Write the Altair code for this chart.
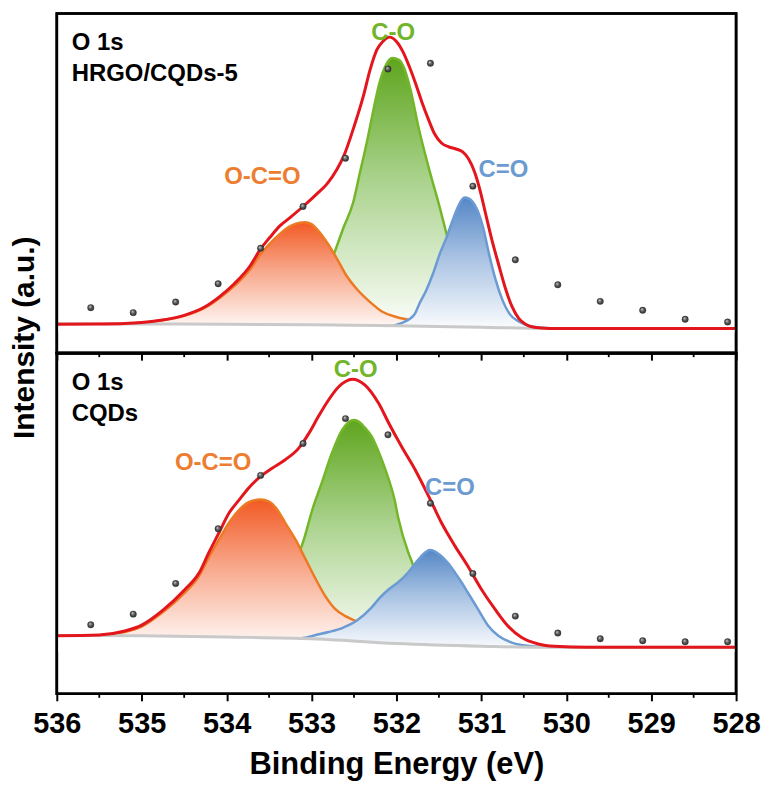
import altair as alt
import pandas as pd

FONT = "Liberation Sans"

# ---------------- data (binding energy in eV, intensity in a.u.) ----------------
TICKS = [536, 535, 534, 533, 532, 531, 530, 529, 528]
MINOR_TICKS = [535.5, 534.5, 533.5, 532.5, 531.5, 530.5, 529.5, 528.5]

DOT_E = [535.6, 535.1, 534.6, 534.1, 533.6, 533.1, 532.6, 532.1,
         531.6, 531.1, 530.6, 530.1, 529.6, 529.1, 528.6, 528.1]
TOP_DOT_I = [45.7, 40.7, 51.3, 69.7, 105.3, 147.3, 195.7, 285.3,
             291.0, 167.7, 93.7, 68.7, 52.0, 43.0, 34.0, 31.3]
BOT_DOT_I = [69.3, 80.0, 110.7, 165.7, 219.3, 251.3, 276.3, 260.0,
             191.3, 120.7, 78.0, 61.0, 55.3, 53.3, 52.3, 52.3]

# --- HRGO/CQDs-5 panel ---
TOP_ENV_E = [536.0, 535.5, 535.2, 535.0, 534.78, 534.5, 534.26, 534.09, 533.91, 533.72,
             533.6, 533.49, 533.37, 533.25, 533.09, 532.94, 532.82, 532.7, 532.62, 532.51,
             532.39, 532.31, 532.23, 532.16, 532.08, 532.0, 531.92, 531.85, 531.78, 531.7,
             531.62, 531.55, 531.47, 531.38, 531.3, 531.22, 531.15, 531.08, 531.02, 530.95,
             530.88, 530.8, 530.72, 530.64, 530.56, 530.48, 530.38, 530.2, 530.0, 528.0]
TOP_ENV_I = [29.0, 29.3, 29.8, 30.8, 33.0, 38.0, 46.3, 56.3, 69.7, 88.0,
             104.7, 116.3, 128.0, 136.3, 148.0, 159.7, 169.7, 184.7, 198.0, 224.7,
             258.0, 284.7, 304.7, 313.0, 317.3, 313.0, 302.0, 288.0, 272.0, 252.0,
             234.0, 220.0, 211.0, 207.0, 205.0, 202.0, 195.0, 182.0, 165.0, 140.0,
             115.0, 90.0, 66.0, 47.0, 35.0, 29.0, 26.0, 24.8, 24.7, 24.7]

TOP_OCO_E = [536.0, 535.5, 535.0, 534.78, 534.5, 534.26, 534.09, 533.91, 533.72, 533.6,
             533.49, 533.37, 533.25, 533.15, 533.08, 533.0, 532.94, 532.82, 532.7, 532.59,
             532.47, 532.31, 532.16, 532.0, 531.8, 531.5, 531.2, 530.8, 530.4]
TOP_OCO_I = [29.0, 29.3, 30.6, 32.8, 37.5, 45.5, 55.0, 67.5, 84.5, 99.5,
             110.0, 120.0, 127.5, 130.8, 131.5, 129.5, 124.7, 111.3, 94.7, 78.0,
             64.7, 51.3, 41.3, 36.3, 32.5, 29.5, 27.5, 26.0, 25.0]

TOP_CO_E = [533.1, 532.95, 532.82, 532.7, 532.63, 532.51, 532.43, 532.35, 532.27, 532.2,
            532.12, 532.05, 531.97, 531.9, 531.84, 531.73, 531.61, 531.49, 531.41, 531.3,
            531.18, 531.05, 530.9]
TOP_CO_I = [29.0, 50.0, 80.0, 108.0, 124.7, 151.3, 181.3, 211.3, 244.7, 271.3,
            290.0, 296.3, 294.5, 284.0, 266.3, 223.0, 183.0, 146.3, 119.7, 85.0,
            52.0, 33.0, 26.5]

TOP_CDO_E = [532.1, 531.95, 531.85, 531.78, 531.73, 531.65, 531.57, 531.49, 531.41, 531.34,
             531.27, 531.2, 531.14, 531.08, 531.03, 530.98, 530.91, 530.83, 530.75, 530.67,
             530.55, 530.42, 530.25, 530.0]
TOP_CDO_I = [26.5, 30.0, 34.0, 40.0, 49.7, 63.0, 79.7, 99.7, 116.3, 133.0,
             148.0, 156.3, 155.0, 149.0, 140.0, 126.3, 99.7, 73.0, 53.0, 39.7,
             31.3, 27.0, 25.2, 24.7]

TOP_BG_E = [536.0, 535.0, 534.0, 533.0, 532.0, 531.0, 530.4, 530.0, 528.0]
TOP_BG_I = [29.5, 29.3, 29.0, 28.5, 27.6, 26.0, 25.0, 24.7, 24.7]

# --- CQDs panel ---
BOT_ENV_E = [536.0, 535.5, 535.2, 535.0, 534.75, 534.5, 534.32, 534.21, 534.09, 533.97,
             533.85, 533.74, 533.6, 533.46, 533.31, 533.15, 533.03, 532.92, 532.8, 532.68,
             532.6, 532.52, 532.45, 532.37, 532.21, 532.09, 531.94, 531.78, 531.62, 531.47,
             531.31, 531.16, 531.0, 530.84, 530.69, 530.53, 530.33, 530.14, 529.75, 528.0]
BOT_ENV_I = [58.3, 59.0, 63.0, 69.0, 84.0, 104.0, 122.0, 141.7, 161.7, 181.7,
             195.0, 206.7, 218.3, 226.7, 235.0, 246.7, 261.7, 278.3, 295.0, 308.3,
             313.5, 315.7, 314.5, 310.0, 291.7, 271.7, 248.3, 225.0, 198.3, 171.7,
             148.3, 128.3, 105.0, 85.0, 68.3, 56.7, 50.0, 47.7, 46.7, 46.7]

BOT_OCO_E = [536.0, 535.5, 535.2, 535.0, 534.75, 534.5, 534.32, 534.21, 534.09, 533.97,
             533.85, 533.74, 533.6, 533.5, 533.42, 533.31, 533.19, 533.07, 532.95, 532.84,
             532.72, 532.6, 532.47, 532.3, 532.0, 531.6, 531.2]
BOT_OCO_I = [58.0, 58.7, 62.0, 67.5, 82.0, 101.0, 119.0, 137.0, 155.0, 172.0,
             185.0, 192.5, 195.0, 193.0, 186.7, 171.7, 155.0, 135.0, 115.0, 98.3,
             85.0, 78.0, 72.5, 65.0, 56.5, 51.5, 48.5]

BOT_CO_E = [533.4, 533.3, 533.2, 533.09, 532.99, 532.88, 532.76, 532.64, 532.56, 532.5,
            532.44, 532.37, 532.29, 532.21, 532.13, 532.02, 531.98, 531.86, 531.82, 531.7,
            531.55, 531.4, 531.2]
BOT_CO_I = [60.0, 100.0, 128.0, 155.0, 185.0, 211.7, 241.7, 265.0, 273.0, 275.0,
            273.0, 267.0, 258.3, 243.0, 225.0, 194.0, 177.0, 141.7, 133.0, 100.0,
            72.0, 57.0, 50.0]

BOT_CDO_E = [533.3, 533.1, 532.95, 532.8, 532.64, 532.47, 532.3, 532.2, 532.09, 531.98,
             531.86, 531.74, 531.66, 531.61, 531.55, 531.47, 531.39, 531.31, 531.23, 531.16,
             531.04, 530.92, 530.8, 530.65, 530.53, 530.3, 530.0]
BOT_CDO_I = [54.0, 56.0, 59.0, 62.0, 66.0, 73.3, 86.0, 96.0, 105.0, 112.0,
             122.0, 135.0, 142.0, 144.3, 143.0, 138.3, 131.0, 121.7, 111.5, 101.7,
             85.0, 68.3, 58.3, 51.7, 49.0, 47.2, 46.7]

BOT_BG_E = [536.0, 535.0, 534.0, 533.0, 532.0, 531.0, 530.3, 528.0]
BOT_BG_I = [58.5, 58.2, 57.0, 55.3, 50.5, 47.8, 46.7, 46.7]

PEAK_NAMES = ["O-C=O", "C-O", "C=O"]
TOP_LBL_E = [533.58, 532.04, 530.74]
TOP_LBL_I = [169.7, 314.7, 177.0]
BOT_LBL_E = [534.16, 532.48, 531.37]
BOT_LBL_I = [225.0, 318.3, 200.0]

# ---------------- style ----------------
RED = "#e3161d"
GRAY = "#c9c9c9"
ORANGE_LINE, ORANGE_STOPS = "#ec7a22", ["#f25a24", "#f8a98d", "#ffffff"]
GREEN_LINE, GREEN_STOPS = "#74b62a", ["#5ea51d", "#abd38e", "#ffffff"]
BLUE_LINE, BLUE_STOPS = "#6b9bd2", ["#5587c6", "#a9c3e3", "#ffffff"]
LABEL_COLORS = ["#ed7d31", "#72b52a", "#6c9bd1"]
W = 682


def df(e, i):
    assert len(e) == len(i)
    return pd.DataFrame({"E": e, "I": i})


def grad(cols):
    return alt.LinearGradient(
        gradient="linear",
        stops=[alt.GradientStop(color=cols[0], offset=0),
               alt.GradientStop(color=cols[1], offset=0.45),
               alt.GradientStop(color=cols[2], offset=1)],
        x1=1, x2=1, y1=0, y2=1)


def panel(h, base, env, oco, co, cdo, bg, dot_i, lbl_e, lbl_i, sample, bottom):
    xs = alt.Scale(domain=[528, 536], reverse=True, nice=False, zero=False)
    ys = alt.Scale(domain=[0, h], nice=False, zero=False)
    if bottom:
        xax = alt.Axis(values=TICKS, format="d", labels=True, labelFontSize=29,
                       labelPadding=9, labelFlush=False, labelOverlap=False,
                       tickSize=7, tickWidth=2, title="Binding Energy (eV)",
                       titleFontSize=31, titlePadding=11)
        yax = None
    else:
        xax = alt.Axis(values=TICKS, labels=False, tickSize=7, tickWidth=2, title=None)
        yax = alt.Axis(title="Intensity (a.u.)", labels=False, ticks=False,
                       titleFontSize=30, titleY=325, titlePadding=17)
    X = alt.X("E:Q", scale=xs, axis=xax)
    Y = alt.Y("I:Q", scale=ys, axis=yax)

    def comp(d, stops, line):
        a = alt.Chart(d).mark_area(color=grad(stops), interpolate="monotone").encode(
            x=X, y=Y, y2=alt.datum(base))
        l = alt.Chart(d).mark_line(color=line, strokeWidth=2.5, interpolate="monotone").encode(x=X, y=Y)
        return [a, l]

    layers = []
    layers += comp(co, GREEN_STOPS, GREEN_LINE)
    layers += comp(oco, ORANGE_STOPS, ORANGE_LINE)
    layers += comp(cdo, BLUE_STOPS, BLUE_LINE)
    # white mask under the background line
    layers.append(alt.Chart(bg).mark_area(color="white", interpolate="monotone").encode(
        x=X, y=Y, y2=alt.datum(base)))
    layers.append(alt.Chart(bg).mark_line(color=GRAY, strokeWidth=3, interpolate="monotone").encode(x=X, y=Y))
    layers.append(alt.Chart(env).mark_line(color=RED, strokeWidth=3, interpolate="monotone").encode(x=X, y=Y))
    dots = pd.DataFrame({"E": DOT_E, "I": dot_i})
    layers.append(alt.Chart(dots).mark_circle(
        size=42, opacity=1, stroke="#2b2b2b", strokeWidth=0.4,
        color=alt.RadialGradient(gradient="radial", x1=0.35, y1=0.3, r1=0, x2=0.5, y2=0.5, r2=0.5,
                                 stops=[alt.GradientStop(color="#d9d9d9", offset=0),
                                        alt.GradientStop(color="#5a5a5a", offset=0.55),
                                        alt.GradientStop(color="#2e2e2e", offset=1)])
    ).encode(x=X, y=Y))
    minor = pd.DataFrame({"E": MINOR_TICKS})
    layers.append(alt.Chart(minor).mark_rule(color="black", strokeWidth=1.8).encode(
        x=X, y=alt.value(h), y2=alt.value(h + 4)))
    lbl = pd.DataFrame({"E": lbl_e, "I": lbl_i, "name": PEAK_NAMES})
    layers.append(alt.Chart(lbl).mark_text(font=FONT, fontSize=24, fontWeight="bold",
                                           align="center", baseline="alphabetic").encode(
        x=X, y=Y, text="name:N",
        color=alt.Color("name:N", scale=alt.Scale(domain=PEAK_NAMES, range=LABEL_COLORS), legend=None)))
    for k, t in enumerate(["O 1s", sample]):
        layers.append(alt.Chart(pd.DataFrame({"t": [t]})).mark_text(
            font=FONT, fontSize=24, fontWeight="bold", align="left", baseline="alphabetic",
            color="black").encode(x=alt.value(15), y=alt.value(37 + 31 * k), text="t:N"))
    # frame drawn on top of everything
    layers.append(alt.Chart(pd.DataFrame({"f": [0]})).mark_rect(
        fillOpacity=0, stroke="black", strokeWidth=2.6).encode(
        x=alt.value(0), x2=alt.value(W), y=alt.value(0), y2=alt.value(h)))
    return alt.layer(*layers).properties(width=W, height=h)


top = panel(341, 21, df(TOP_ENV_E, TOP_ENV_I), df(TOP_OCO_E, TOP_OCO_I), df(TOP_CO_E, TOP_CO_I),
            df(TOP_CDO_E, TOP_CDO_I), df(TOP_BG_E, TOP_BG_I), TOP_DOT_I,
            TOP_LBL_E, TOP_LBL_I, "HRGO/CQDs-5", False)
bot = panel(342, 42, df(BOT_ENV_E, BOT_ENV_I), df(BOT_OCO_E, BOT_OCO_I), df(BOT_CO_E, BOT_CO_I),
            df(BOT_CDO_E, BOT_CDO_I), df(BOT_BG_E, BOT_BG_I), BOT_DOT_I,
            BOT_LBL_E, BOT_LBL_I, "CQDs", True)

chart = alt.vconcat(top, bot, spacing=0, bounds="flush").properties(
    padding={"left": 0, "top": 1, "right": 0, "bottom": 0},
    background="white",
).configure_view(stroke="black", strokeWidth=2.6).configure_axis(
    grid=False, domain=False, tickColor="black", labelColor="black", titleColor="black",
    labelFont=FONT, titleFont=FONT, labelFontWeight="bold", titleFontWeight="bold")

chart.save("out.html", embed_options={"renderer": "svg", "actions": False})
